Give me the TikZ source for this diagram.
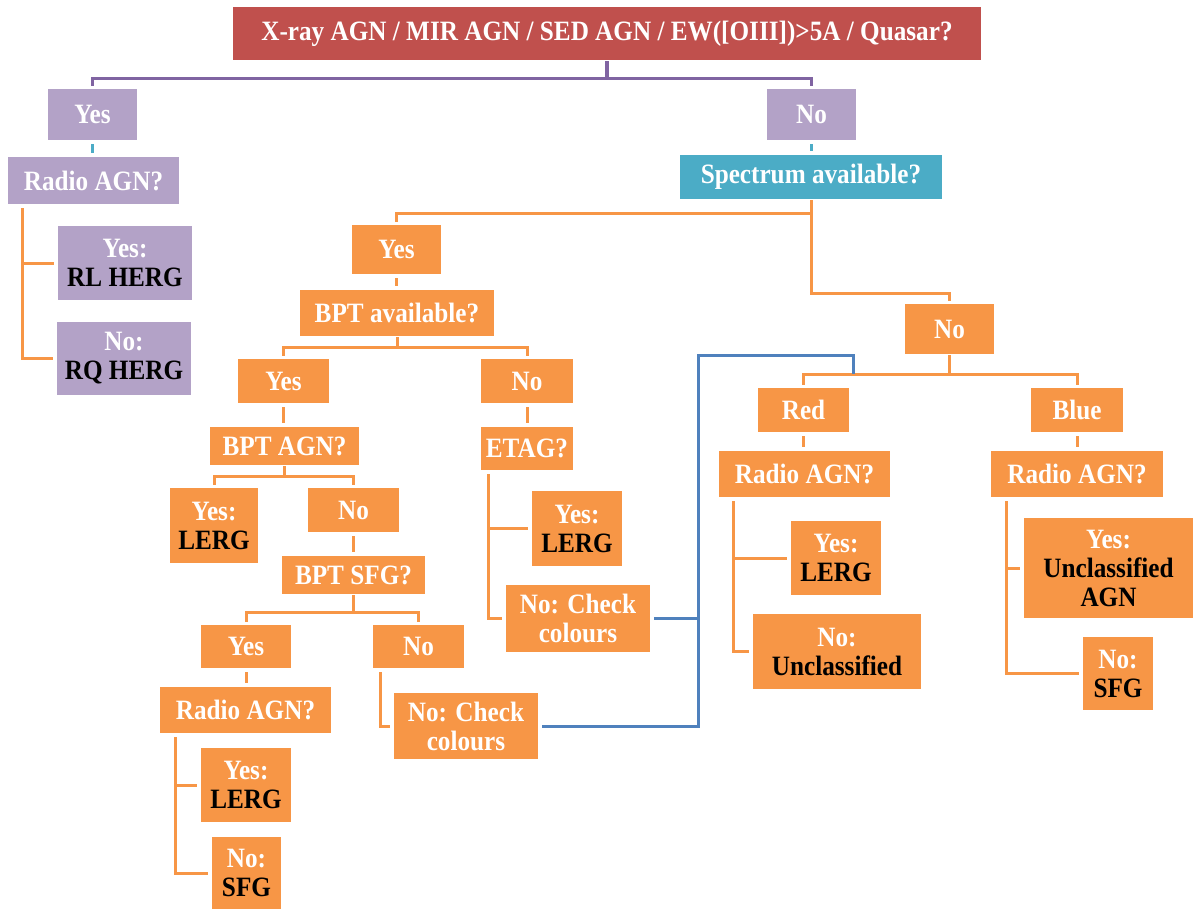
\documentclass[tikz,border=0pt]{standalone}
\usepackage{fontspec}
\setmainfont{Liberation Serif}[FakeStretch=0.9]
\definecolor{cRed}{HTML}{C0504D}
\definecolor{cPur}{HTML}{B3A2C7}
\definecolor{cPurL}{HTML}{8064A2}
\definecolor{cTeal}{HTML}{4BACC6}
\definecolor{cOr}{HTML}{F79646}
\definecolor{cBlue}{HTML}{4F81BD}
\newcommand{\res}[1]{\textcolor{black}{#1}}
\newcommand{\bx}[7]{%
 \pgfmathsetmacro{\bxcx}{(#2+#4)/2}%
 \pgfmathsetmacro{\bxcy}{(#3+#5)/2}%
 \pgfmathsetmacro{\bxw}{(#4-#2)*0.5}%
 \pgfmathsetmacro{\bxh}{(#5-#3)*0.5}%
 \node[#6, minimum width=\bxw pt, minimum height=\bxh pt] (#1) at (\bxcx,\bxcy) {#7};}
\tikzset{
 box/.style={inner sep=0pt, align=center, text=white, font=\bfseries\fontsize{14}{14.5}\selectfont},
 redbox/.style={box, fill=cRed},
 purbox/.style={box, fill=cPur},
 tealbox/.style={box, fill=cTeal},
 orbox/.style={box, fill=cOr},
 pline/.style={draw=cPurL, line width=1.75pt},
 oline/.style={draw=cOr, line width=1.5pt},
 tline/.style={draw=cTeal, line width=1.5pt},
 bline/.style={draw=cBlue, line width=1.5pt},
 dsh/.style={shorten <=2pt, shorten >=2pt},
 tre/.style={shorten <=0.5pt, shorten >=1.5pt},
 brk/.style={shorten <=2pt, shorten >=2pt},
}
\begin{document}
\begin{tikzpicture}[x=0.5pt,y=-0.5pt]
\useasboundingbox (0,0) rectangle (1200,918);
% boxes
\bx{top}{233}{7}{981}{60}{redbox}{X-ray AGN / MIR AGN / SED AGN / EW([OIII])>5A / Quasar?}
\bx{yesP}{48}{89}{137}{140}{purbox}{Yes}
\bx{radL}{8}{157}{179}{204}{purbox}{Radio AGN?}
\bx{rlh}{58}{226}{192}{300}{purbox}{Yes:\\\res{RL HERG}}
\bx{rqh}{57}{322}{191}{395}{purbox}{No:\\\res{RQ HERG}}
\bx{noP}{767}{89}{856}{140}{purbox}{No}
\bx{spec}{680}{155}{942}{199}{tealbox}{Spectrum available?}
\bx{yes1}{352}{225}{441}{274}{orbox}{Yes}
\bx{bptav}{300}{290}{494}{336}{orbox}{BPT available?}
\bx{yes2}{238}{359}{329}{403}{orbox}{Yes}
\bx{no2}{481}{359}{573}{403}{orbox}{No}
\bx{bptagn}{210}{427}{359}{465}{orbox}{BPT AGN?}
\bx{etag}{481}{427}{573}{470}{orbox}{ETAG?}
\bx{lerg1}{170}{488}{258}{563}{orbox}{Yes:\\\res{LERG}}
\bx{no3}{308}{488}{399}{532}{orbox}{No}
\bx{bptsfg}{282}{556}{425}{594}{orbox}{BPT SFG?}
\bx{yes4}{201}{625}{291}{668}{orbox}{Yes}
\bx{no4}{373}{625}{464}{668}{orbox}{No}
\bx{radA}{160}{687}{331}{733}{orbox}{Radio AGN?}
\bx{lerg2}{201}{748}{291}{822}{orbox}{Yes:\\\res{LERG}}
\bx{sfg1}{212}{837}{281}{909}{orbox}{No:\\\res{SFG}}
\bx{chk2}{394}{693}{538}{759}{orbox}{No: Check\\colours}
\bx{lerg3}{532}{491}{622}{566}{orbox}{Yes:\\\res{LERG}}
\bx{chk1}{506}{585}{650}{652}{orbox}{No: Check\\colours}
\bx{no1}{905}{304}{994}{354}{orbox}{No}
\bx{red}{758}{388}{849}{432}{orbox}{Red}
\bx{blue}{1031}{388}{1123}{432}{orbox}{Blue}
\bx{radR}{719}{451}{890}{497}{orbox}{Radio AGN?}
\bx{radB}{991}{451}{1163}{497}{orbox}{Radio AGN?}
\bx{lerg4}{791}{521}{881}{595}{orbox}{Yes:\\\res{LERG}}
\bx{uncl}{753}{614}{921}{689}{orbox}{No:\\\res{Unclassified}}
\bx{uagn}{1024}{518}{1193}{618}{orbox}{Yes:\\\res{Unclassified}\\\res{AGN}}
\bx{sfg2}{1083}{637}{1153}{710}{orbox}{No:\\\res{SFG}}
% purple tree
\draw[pline, tre] (top.south) -- ++(0,18) -| (yesP.north);
\draw[pline, tre] (top.south) -- ++(0,18) -| (noP.north);
% teal dashes
\draw[tline, dsh] (yesP.south) -- (yesP.south |- radL.north);
\draw[tline, dsh] (noP.south) -- (noP.south |- spec.north);
% spectrum tree
\draw[oline, tre] (spec.south) -- ++(0,14) -| (yes1.north);
\draw[oline, tre] (spec.south) -- ++(0,94) -| (no1.north);
% orange dashes
\draw[oline, dsh] (yes1.south) -- (yes1.south |- bptav.north);
\draw[oline, dsh] (yes2.south) -- (yes2.south |- bptagn.north);
\draw[oline, dsh] (no2.south) -- (no2.south |- etag.north);
\draw[oline, dsh] (no3.south) -- (no3.south |- bptsfg.north);
\draw[oline, dsh] (yes4.south) -- (yes4.south |- radA.north);
\draw[oline, dsh] (red.south) -- (red.south |- radR.north);
\draw[oline, dsh] (blue.south) -- (blue.south |- radB.north);
% orange trees
\draw[oline, tre] (bptav.south) -- ++(0,11) -| (yes2.north);
\draw[oline, tre] (bptav.south) -- ++(0,11) -| (no2.north);
\draw[oline, tre] (bptagn.south) -- ++(0,11) -| (lerg1.north);
\draw[oline, tre] (bptagn.south) -- ++(0,11) -| (no3.north);
\draw[oline, tre] (bptsfg.south) -- ++(0,18) -| (yes4.north);
\draw[oline, tre] (bptsfg.south) -- ++(0,18) -| (no4.north);
\draw[oline, tre] (no1.south) -- ++(0,20) -| (red.north);
\draw[oline, tre] (no1.south) -- ++(0,20) -| (blue.north);
% brackets
\draw[oline, brk] ([xshift=7.5pt]radL.south west) |- (rlh.west);
\draw[oline, brk] ([xshift=7.5pt]radL.south west) |- (rqh.west);
\draw[oline, brk] ([xshift=4pt]etag.south west) |- (lerg3.west);
\draw[oline, brk] ([xshift=4pt]etag.south west) |- (chk1.west);
\draw[oline, brk] ([xshift=4pt]no4.south west) |- (chk2.west);
\draw[oline, brk] ([xshift=8pt]radA.south west) |- (lerg2.west);
\draw[oline, brk] ([xshift=8pt]radA.south west) |- (sfg1.west);
\draw[oline, brk] ([xshift=7.5pt]radR.south west) |- (lerg4.west);
\draw[oline, brk] ([xshift=7.5pt]radR.south west) |- (uncl.west);
\draw[oline, brk] ([xshift=8pt]radB.south west) |- (uagn.west);
\draw[oline, brk] ([xshift=8pt]radB.south west) |- (sfg2.west);
% blue connector
\coordinate (bcorner) at (698,355);
\coordinate (bend) at (853,374);
\draw[bline, shorten <=2pt] (chk2.east) -| (bcorner) -| (bend);
\draw[bline, shorten <=2pt] (chk1.east) -- (chk1.east -| bcorner);
\end{tikzpicture}
\end{document}
